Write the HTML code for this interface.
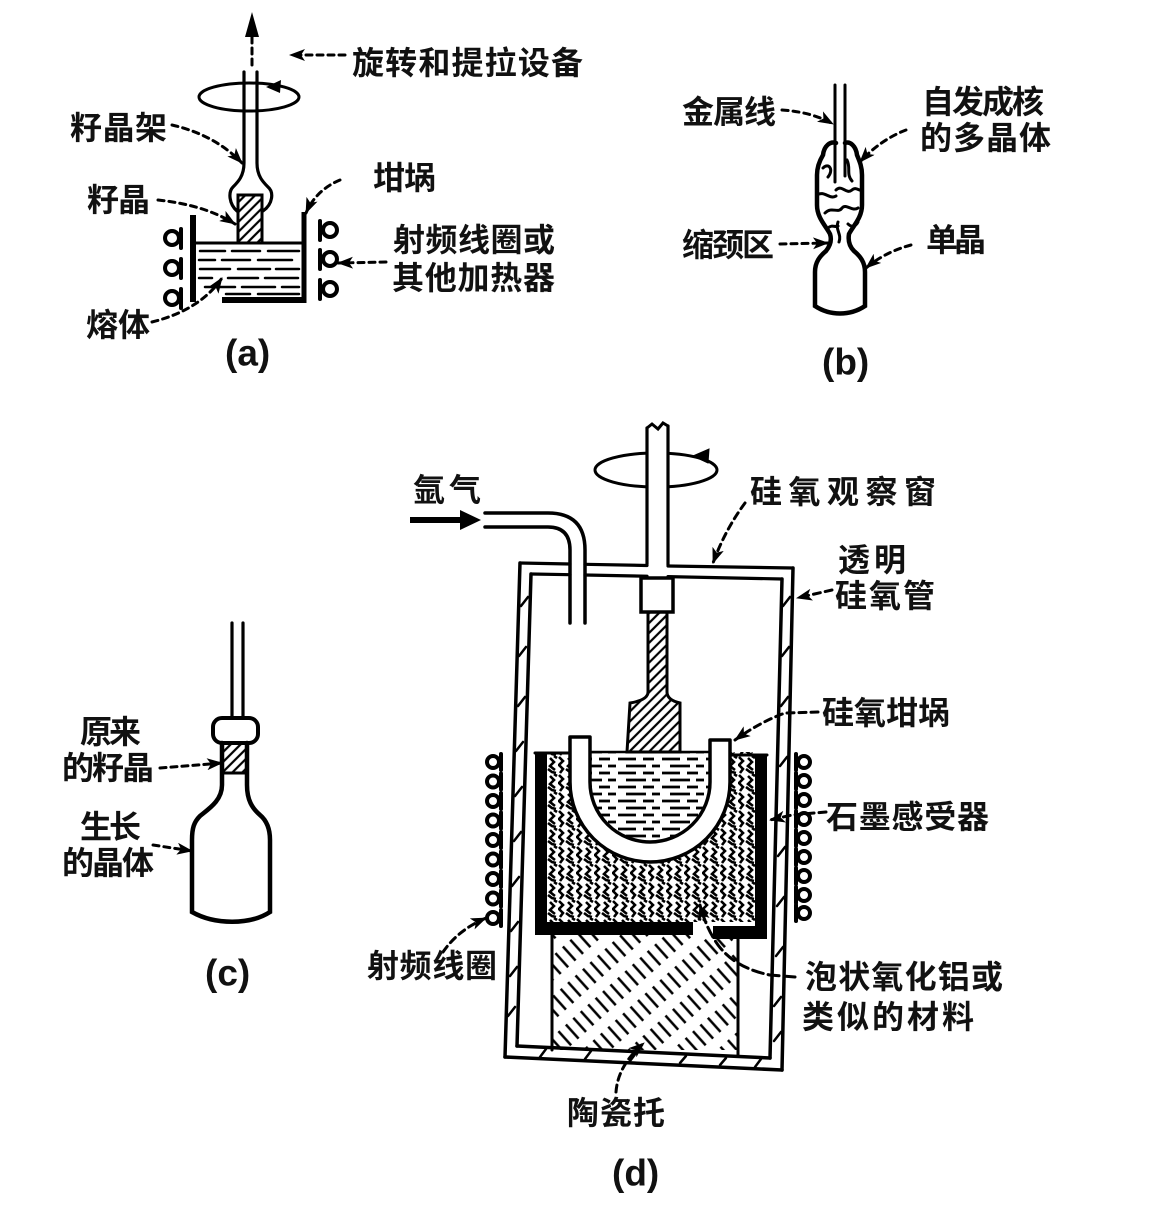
<!DOCTYPE html>
<html><head><meta charset="utf-8">
<style>
html,body{margin:0;padding:0;background:#fff;}
svg{display:block;}
text{font-family:"Liberation Sans","Noto Sans CJK SC",sans-serif;font-weight:bold;font-size:32px;fill:#111;dominant-baseline:central;}
.lbl{font-family:"Liberation Sans",sans-serif;font-size:37px;font-weight:bold;}
</style></head><body>
<svg width="1173" height="1221" viewBox="0 0 1173 1221" xmlns="http://www.w3.org/2000/svg">
<defs>
<marker id="ah" viewBox="0 0 16 12" refX="15" refY="6" markerWidth="16" markerHeight="12" markerUnits="userSpaceOnUse" orient="auto"><path d="M0,0 L16,6 L0,12 L4,6 z" fill="#000"/></marker>
<pattern id="hatchF" patternUnits="userSpaceOnUse" width="7" height="7" patternTransform="rotate(-45)"><line x1="0" y1="3.5" x2="7" y2="3.5" stroke="#000" stroke-width="2.2"/></pattern>
<pattern id="ped" patternUnits="userSpaceOnUse" width="30" height="10" patternTransform="rotate(48)"><line x1="0" y1="5" x2="19" y2="5" stroke="#000" stroke-width="2.4"/></pattern>
<pattern id="foam" patternUnits="userSpaceOnUse" width="18" height="18"><g fill="none" stroke="#000" stroke-width="2.6">
<polyline points="1,1 5,5 1,9 5,13 2,17"/><polyline points="10,2 14,6 10,10 15,14"/><polyline points="8,13 12,16 16,17"/><polyline points="14,0 17,2"/></g></pattern>
<pattern id="melt" patternUnits="userSpaceOnUse" width="44" height="14"><g stroke="#000" stroke-width="2.8"><line x1="2" y1="3" x2="20" y2="3"/><line x1="27" y1="3" x2="38" y2="3"/><line x1="10" y1="10" x2="30" y2="10"/><line x1="36" y1="10" x2="44" y2="10"/></g></pattern>
<clipPath id="foamClip"><path clip-rule="evenodd" d="M547,752 H755 V922 H547 Z M570,752 L570,782 A80,80 0 0 0 730,782 L730,752 Z"/></clipPath>
</defs>
<rect width="1173" height="1221" fill="#fff"/>

<!-- ================= (a) ================= -->
<g stroke="#000" fill="none" stroke-linecap="round">
 <polygon points="252,12 245,37 259,37" fill="#000" stroke="none"/>
 <line x1="252" y1="37" x2="252" y2="66" stroke-width="3" stroke-dasharray="6 5"/>
 <ellipse cx="249" cy="97" rx="50" ry="14" stroke-width="3"/>
 <polygon points="266,87 281,80 280,93" fill="#000" stroke="none"/>
 <rect x="238" y="195" width="24" height="48" fill="url(#hatchF)" stroke="#000" stroke-width="3"/>
 <path d="M244,72 L244,163 C244,176 238,182 233,187 C228,192 229,204 237,211" stroke-width="3.2"/>
 <path d="M257,72 L257,163 C257,176 263,182 268,187 C274,192 273,204 263,211" stroke-width="3.2"/>
 <line x1="193" y1="215" x2="193" y2="302" stroke-width="6" stroke-linecap="butt"/>
 <line x1="304" y1="212" x2="304" y2="303" stroke-width="5" stroke-linecap="butt"/>
 <line x1="222" y1="300" x2="306" y2="300" stroke-width="6" stroke-linecap="butt"/>
 <line x1="196" y1="243" x2="302" y2="243" stroke-width="3"/>
 <g stroke-width="2.5">
  <line x1="200" y1="251" x2="225" y2="251"/><line x1="232" y1="251" x2="260" y2="251"/><line x1="268" y1="251" x2="299" y2="251"/>
  <line x1="199" y1="260" x2="215" y2="260"/><line x1="222" y1="260" x2="250" y2="260"/><line x1="258" y1="260" x2="292" y2="260"/>
  <line x1="200" y1="269" x2="230" y2="269"/><line x1="238" y1="269" x2="270" y2="269"/><line x1="276" y1="269" x2="299" y2="269"/>
  <line x1="199" y1="278" x2="212" y2="278"/><line x1="228" y1="278" x2="258" y2="278"/><line x1="265" y1="278" x2="298" y2="278"/>
  <line x1="205" y1="287" x2="235" y2="287"/><line x1="242" y1="287" x2="275" y2="287"/><line x1="282" y1="287" x2="299" y2="287"/>
  <line x1="226" y1="294" x2="250" y2="294"/><line x1="258" y1="294" x2="299" y2="294"/>
 </g>
 <g stroke-width="4">
  <circle cx="172" cy="238" r="7"/><line x1="181" y1="229" x2="181" y2="248"/>
  <circle cx="172" cy="268" r="7"/><line x1="181" y1="259" x2="181" y2="278"/>
  <circle cx="172" cy="298" r="7"/><line x1="181" y1="289" x2="181" y2="308"/>
  <circle cx="330" cy="230" r="7"/><line x1="320" y1="221" x2="320" y2="240"/>
  <circle cx="330" cy="259" r="7"/><line x1="320" y1="250" x2="320" y2="269"/>
  <circle cx="330" cy="289" r="7"/><line x1="320" y1="280" x2="320" y2="299"/>
 </g>
 <g stroke-width="3" stroke-dasharray="6 5" marker-end="url(#ah)">
  <path d="M345,55 L290,55"/>
  <path d="M172,125 Q215,135 242,163"/>
  <path d="M158,200 Q205,205 235,224"/>
  <path d="M340,180 Q316,190 306,213"/>
  <path d="M386,262 L338,263"/>
  <path d="M152,322 Q200,310 222,278"/>
 </g>
</g>
<text x="352" y="63" textLength="231" lengthAdjust="spacing">旋转和提拉设备</text>
<text x="70" y="128" textLength="97" lengthAdjust="spacing">籽晶架</text>
<text x="87" y="200" textLength="63" lengthAdjust="spacing">籽晶</text>
<text x="373" y="178" textLength="63" lengthAdjust="spacing">坩埚</text>
<text x="393" y="240" textLength="162" lengthAdjust="spacing">射频线圈或</text>
<text x="392" y="278" textLength="163" lengthAdjust="spacing">其他加热器</text>
<text x="86" y="325" textLength="64" lengthAdjust="spacing">熔体</text>
<text class="lbl" x="225" y="353">(a)</text>

<!-- ================= (b) ================= -->
<g stroke="#000" fill="none" stroke-linecap="round">
 <line x1="835" y1="85" x2="835" y2="182" stroke-width="3"/>
 <line x1="845" y1="85" x2="845" y2="176" stroke-width="3"/>
 <path d="M836,143 C830,141 824,146 823,155 C820,160 817,166 817,175 L817,205 C817,218 826,226 830,234 C832,240 830,246 826,251 C820,256 815,262 815,272 L815,306 C830,316 850,316 865,306 L865,272 C865,262 860,256 854,251 C849,246 848,240 849,234 C853,226 862,218 862,205 L862,175 C862,166 859,160 857,155 C856,146 850,141 845,143" stroke-width="4.5"/>
 <g stroke-width="3">
  <path d="M823,168 C829,162 834,170 828,177"/>
  <path d="M836,190 C842,184 846,195 852,190 C856,186 860,192 862,190"/>
  <path d="M817,195 C824,190 830,200 836,196"/>
  <path d="M825,213 C832,206 838,214 842,208 C846,203 852,212 858,208"/>
  <path d="M838,222 C835,230 842,234 839,242"/>
  <path d="M847,160 C851,168 846,174 852,181"/>
  <path d="M828,228 C832,224 836,228 838,226"/>
  <path d="M848,224 C852,228 856,226 858,222"/>
 </g>
 <g stroke-width="3" stroke-dasharray="6 5" marker-end="url(#ah)">
  <path d="M782,110 Q812,112 833,124"/>
  <path d="M906,130 Q880,140 860,162"/>
  <path d="M780,244 L828,243"/>
  <path d="M911,245 Q885,252 866,268"/>
 </g>
</g>
<text x="682" y="112" textLength="94" lengthAdjust="spacing">金属线</text>
<text x="922" y="102" textLength="122" lengthAdjust="spacing">自发成核</text>
<text x="920" y="138" textLength="131" lengthAdjust="spacing">的多晶体</text>
<text x="682" y="245" textLength="92" lengthAdjust="spacing">缩颈区</text>
<text x="926" y="240" textLength="60" lengthAdjust="spacing">单晶</text>
<text class="lbl" x="822" y="362">(b)</text>

<!-- ================= (c) ================= -->
<g stroke="#000" fill="none" stroke-linecap="round">
 <line x1="232" y1="623" x2="232" y2="719" stroke-width="3.2"/>
 <line x1="243" y1="623" x2="243" y2="719" stroke-width="3.2"/>
 <rect x="213" y="718" width="45" height="25" rx="9" fill="#fff" stroke-width="4"/>
 <rect x="222" y="743" width="26" height="30" fill="url(#hatchF)" stroke="none"/>
 <path d="M222,743 L222,785 C222,800 210,808 200,816 C194,822 192,828 192,840 L192,912 C215,925 250,925 270,912 L270,840 C270,828 266,820 260,815 C252,808 247,800 247,785 L247,743" stroke-width="4.5"/>
 <line x1="222" y1="773" x2="247" y2="773" stroke-width="3"/>
 <g stroke-width="3" stroke-dasharray="6 5" marker-end="url(#ah)">
  <path d="M160,768 L222,763"/>
  <path d="M153,845 L192,851"/>
 </g>
</g>
<text x="80" y="732" textLength="61" lengthAdjust="spacing">原来</text>
<text x="62" y="768" textLength="92" lengthAdjust="spacing">的籽晶</text>
<text x="80" y="827" textLength="61" lengthAdjust="spacing">生长</text>
<text x="62" y="863" textLength="92" lengthAdjust="spacing">的晶体</text>
<text class="lbl" x="205" y="973">(c)</text>

<!-- ================= (d) ================= -->
<g stroke="#000" fill="none" stroke-linecap="round">
 <ellipse cx="656" cy="470" rx="61" ry="17" stroke-width="3"/>
 <polygon points="693,456 709,449 708,463" fill="#000"/>
 <rect x="647" y="426" width="21" height="137" fill="#fff" stroke="none"/>
 <line x1="647" y1="428" x2="647" y2="564" stroke-width="3.2"/>
 <line x1="668" y1="426" x2="668" y2="565" stroke-width="3.2"/>
 <path d="M647,428 L652,424 L658,429 L663,423 L668,426" stroke-width="3"/>
 <line x1="410" y1="520" x2="462" y2="520" stroke-width="6" stroke-linecap="butt"/>
 <polygon points="460,510 481,520 460,530" fill="#000" stroke="none"/>
 <path d="M485,513 L548,513 Q585,513 585,550 L585,623" stroke-width="3.5"/>
 <path d="M485,527 L548,527 Q570,527 570,550 L570,623" stroke-width="3.5"/>
 <g stroke-width="3.2">
  <line x1="520" y1="563" x2="570" y2="564"/><line x1="585" y1="564.3" x2="647" y2="565.5"/><line x1="668" y1="566" x2="793" y2="568"/>
  <line x1="531" y1="574" x2="570" y2="574.7"/><line x1="585" y1="575" x2="647" y2="576.2"/><line x1="668" y1="576.6" x2="782" y2="579"/>
 </g>
 <g stroke-width="3.5">
  <line x1="520" y1="563" x2="505" y2="1057"/>
  <line x1="531" y1="574" x2="517" y2="1046"/>
  <line x1="793" y1="568" x2="782" y2="1070"/>
  <line x1="782" y1="579" x2="770" y2="1058"/>
  <line x1="505" y1="1057" x2="782" y2="1070"/>
  <line x1="517" y1="1046" x2="770" y2="1058"/>
 </g>
 <g stroke-width="2.5">
  <line x1="521" y1="606" x2="528" y2="597"/><line x1="519" y1="656" x2="526" y2="647"/><line x1="518" y1="706" x2="525" y2="697"/>
  <line x1="516" y1="751" x2="523" y2="742"/><line x1="515" y1="796" x2="522" y2="787"/><line x1="514" y1="841" x2="521" y2="832"/>
  <line x1="512" y1="886" x2="519" y2="877"/><line x1="511" y1="931" x2="518" y2="922"/><line x1="510" y1="976" x2="517" y2="967"/>
  <line x1="508" y1="1016" x2="515" y2="1007"/>
  <line x1="783" y1="606" x2="790" y2="597"/><line x1="782" y1="656" x2="789" y2="647"/><line x1="781" y1="706" x2="788" y2="697"/>
  <line x1="780" y1="766" x2="787" y2="757"/><line x1="778" y1="856" x2="785" y2="847"/><line x1="777" y1="906" x2="784" y2="897"/>
  <line x1="776" y1="956" x2="783" y2="947"/><line x1="774" y1="1006" x2="781" y2="997"/><line x1="774" y1="1041" x2="781" y2="1032"/>
  <line x1="540" y1="1057" x2="546" y2="1049"/><line x1="585" y1="1059" x2="591" y2="1051"/><line x1="630" y1="1061" x2="636" y2="1053"/>
  <line x1="680" y1="1063" x2="686" y2="1056"/><line x1="720" y1="1065" x2="726" y2="1058"/><line x1="755" y1="1067" x2="761" y2="1059"/>
 </g>
 <rect x="552" y="935" width="186" height="115" fill="url(#ped)" stroke="none"/>
 <line x1="552" y1="935" x2="552" y2="1050" stroke-width="3"/>
 <line x1="738" y1="935" x2="738" y2="1055" stroke-width="3"/>
 <rect x="547" y="752" width="208" height="170" fill="url(#foam)" stroke="none" clip-path="url(#foamClip)"/>
 <g fill="#000" stroke="none">
  <rect x="535" y="752" width="12" height="183"/>
  <rect x="755" y="755" width="12" height="184"/>
  <rect x="535" y="922" width="158" height="13"/>
  <rect x="713" y="926" width="54" height="13"/>
 </g>
 <line x1="535" y1="753" x2="570" y2="753" stroke-width="3"/>
 <line x1="730" y1="755" x2="767" y2="755" stroke-width="3"/>
 <path d="M590,752 L590,782 A60,60 0 0 0 710,782 L710,752 Z" fill="url(#melt)" stroke="none"/>
 <path d="M570,737 L570,782 A80,80 0 0 0 730,782 L730,740 L710,740 L710,782 A60,60 0 0 1 590,782 L590,737 Z" fill="#fff" stroke-width="3.5" stroke-linejoin="round"/>
 <line x1="590" y1="752" x2="710" y2="752" stroke-width="2.5"/>
 <path d="M648,612 L648,692 Q648,700 630,703 L627,752 L680,752 L680,703 Q667,700 667,692 L667,612 Z" fill="url(#hatchF)" stroke-width="3"/>
 <rect x="641" y="578" width="32" height="34" fill="#fff" stroke-width="3.5"/>
 <g stroke-width="4">
  <circle cx="493" cy="762" r="6"/><line x1="501" y1="754" x2="501" y2="770"/>
  <circle cx="493" cy="781.5" r="6"/><line x1="501" y1="773.5" x2="501" y2="789.5"/>
  <circle cx="493" cy="801" r="6"/><line x1="501" y1="793" x2="501" y2="809"/>
  <circle cx="493" cy="820.5" r="6"/><line x1="501" y1="812.5" x2="501" y2="828.5"/>
  <circle cx="493" cy="840" r="6"/><line x1="501" y1="832" x2="501" y2="848"/>
  <circle cx="493" cy="859.5" r="6"/><line x1="501" y1="851.5" x2="501" y2="867.5"/>
  <circle cx="493" cy="879" r="6"/><line x1="501" y1="871" x2="501" y2="887"/>
  <circle cx="493" cy="898.5" r="6"/><line x1="501" y1="890.5" x2="501" y2="906.5"/>
  <circle cx="493" cy="918" r="6"/><line x1="501" y1="910" x2="501" y2="926"/>
 </g>
 <g stroke-width="4">
  <circle cx="804" cy="762" r="6"/><line x1="796" y1="754" x2="796" y2="770"/>
  <circle cx="804" cy="781" r="6"/><line x1="796" y1="773" x2="796" y2="789"/>
  <circle cx="804" cy="800" r="6"/><line x1="796" y1="792" x2="796" y2="808"/>
  <circle cx="804" cy="819" r="6"/><line x1="796" y1="811" x2="796" y2="827"/>
  <circle cx="804" cy="838" r="6"/><line x1="796" y1="830" x2="796" y2="846"/>
  <circle cx="804" cy="857" r="6"/><line x1="796" y1="849" x2="796" y2="865"/>
  <circle cx="804" cy="876" r="6"/><line x1="796" y1="868" x2="796" y2="884"/>
  <circle cx="804" cy="895" r="6"/><line x1="796" y1="887" x2="796" y2="903"/>
  <circle cx="804" cy="913" r="6"/><line x1="796" y1="905" x2="796" y2="921"/>
 </g>
 <g stroke-width="3" stroke-dasharray="7 5" marker-end="url(#ah)">
  <path d="M745,503 Q725,530 713,563"/>
  <path d="M832,590 L797,598"/>
  <path d="M818,712 L785,713 Q760,722 735,740"/>
  <path d="M826,812 L792,815 L770,820"/>
  <path d="M795,977 L770,975 Q735,968 718,945 Q706,928 700,905" stroke-dasharray="11 5"/>
  <path d="M443,952 Q458,930 486,918"/>
  <path d="M616,1092 Q618,1065 644,1043"/>
 </g>
</g>
<text x="413" y="490" textLength="68" lengthAdjust="spacing">氩气</text>
<text x="750" y="492" textLength="186" lengthAdjust="spacing">硅氧观察窗</text>
<text x="838" y="560" textLength="68" lengthAdjust="spacing">透明</text>
<text x="835" y="596" textLength="100" lengthAdjust="spacing">硅氧管</text>
<text x="822" y="713" textLength="128" lengthAdjust="spacing">硅氧坩埚</text>
<text x="826" y="817" textLength="163" lengthAdjust="spacing">石墨感受器</text>
<text x="805" y="977" textLength="198" lengthAdjust="spacing">泡状氧化铝或</text>
<text x="802" y="1017" textLength="172" lengthAdjust="spacing">类似的材料</text>
<text x="367" y="966" textLength="130" lengthAdjust="spacing">射频线圈</text>
<text x="567" y="1113" textLength="98" lengthAdjust="spacing">陶瓷托</text>
<text class="lbl" x="612" y="1173">(d)</text>
</svg>
</body></html>
